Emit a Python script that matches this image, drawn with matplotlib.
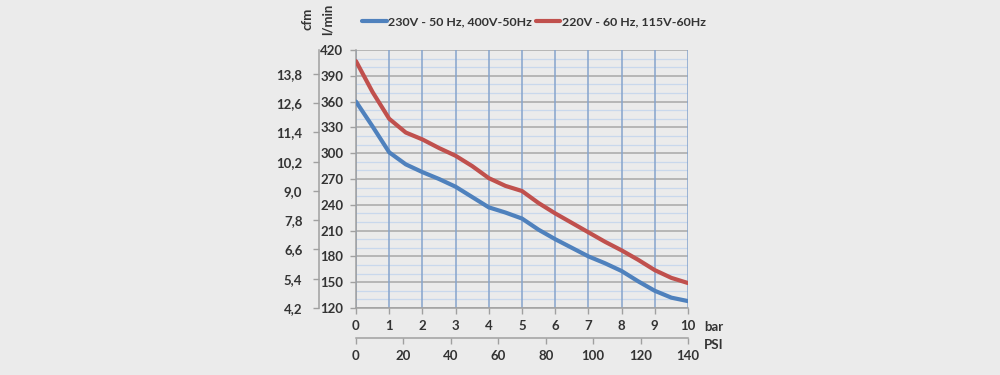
import matplotlib
matplotlib.use('Agg')
import matplotlib.pyplot as plt
from matplotlib.ticker import MultipleLocator

plt.rcParams['font.family'] = ['Lato', 'DejaVu Sans']
plt.rcParams['font.weight'] = 'bold'

# Data (flow in l/min vs pressure in bar)
bar = [0, 0.5, 1, 1.5, 2, 2.5, 3, 3.5, 4, 4.5, 5, 5.5, 6, 6.5, 7, 7.5, 8, 8.5, 9, 9.5, 10]
flow_50hz = [360, 331, 301, 287, 278, 270, 261, 249, 237, 231, 224, 211, 200, 190, 180, 172, 163, 151, 140, 132, 128]
flow_60hz = [407, 371, 340, 324, 316, 306, 297, 285, 271, 262, 256, 242, 230, 219, 208, 197, 187, 176, 164, 155, 149]
label_50hz = "230V - 50 Hz, 400V-50Hz"
label_60hz = "220V - 60 Hz, 115V-60Hz"
lmin_ticks = list(range(120, 421, 30))
cfm_ticks = [4.2, 5.4, 6.6, 7.8, 9.0, 10.2, 11.4, 12.6, 13.8]
bar_ticks = list(range(0, 11))
psi_ticks = list(range(0, 141, 20))

bg = '#ebebeb'
txt = '#333333'
blue = '#4f81bd'
red = '#c0504d'

fig = plt.figure(figsize=(10, 3.75), dpi=100, facecolor=bg)
ax = fig.add_axes([0.356, 0.1787, 0.332, 0.688])
ax.set_facecolor(bg)

l1, = ax.plot(bar, flow_50hz, color=blue, lw=3, solid_joinstyle='round',
              solid_capstyle='round', label=label_50hz, zorder=3)
l2, = ax.plot(bar, flow_60hz, color=red, lw=3, solid_joinstyle='round',
              solid_capstyle='round', label=label_60hz, zorder=3)

ax.set_xlim(0, 10)
ax.set_ylim(120, 420)
ax.set_xticks(bar_ticks)
ax.set_yticks(lmin_ticks)
ax.yaxis.set_minor_locator(MultipleLocator(10))

# grid: vertical blue lines on top of the horizontal ones
ax.grid(True, which='major', axis='y', color='#a8a8a8', lw=1.1)
ax.grid(True, which='minor', axis='y', color='#c9d8ec', lw=0.9)
ax.grid(True, which='major', axis='x', color='#86a4cc', lw=1.1)
ax.yaxis.set_zorder(0.4)
ax.xaxis.set_zorder(0.6)
for s in ['top', 'right']:
    ax.spines[s].set_visible(False)
for s in ['left', 'bottom']:
    ax.spines[s].set_color('#a0a0a0')
    ax.spines[s].set_linewidth(1.1)

ax.tick_params(axis='both', which='major', colors='#a0a0a0', labelcolor=txt,
               labelsize=9.5, length=4, width=1)
ax.tick_params(axis='y', which='minor', length=0)
ax.tick_params(axis='x', pad=5)
ax.tick_params(axis='y', pad=5)

# cfm axis on the far left
cfm = ax.secondary_yaxis(-0.111, functions=(lambda v: (v - 120) / 28.35 + 4.2,
                                            lambda v: (v - 4.2) * 28.35 + 120))
cfm.set_yticks(cfm_ticks)
cfm.set_yticklabels([f"{v:.1f}".replace('.', ',') for v in cfm_ticks])
cfm.spines['left'].set_color('#a0a0a0')
cfm.spines['left'].set_linewidth(1.1)
cfm.tick_params(axis='y', colors='#a0a0a0', labelcolor=txt, labelsize=9.5,
                length=4, width=1, pad=8)

# PSI axis below the bar axis
ax2 = ax.twiny()
ax2.patch.set_visible(False)
ax2.set_xlim(0, 140)
ax2.set_xticks(psi_ticks)
ax2.xaxis.set_ticks_position('bottom')
ax2.xaxis.set_label_position('bottom')
ax2.spines['bottom'].set_position(('outward', 21.6))
for s in ['top', 'right', 'left']:
    ax2.spines[s].set_visible(False)
ax2.spines['bottom'].set_color('#a0a0a0')
ax2.spines['bottom'].set_linewidth(1.1)
ax2.tick_params(axis='x', colors='#a0a0a0', labelcolor=txt, labelsize=9.5,
                length=4, width=1, pad=5)

# unit labels
fig.text(0.714, 1 - 327 / 375, "bar", fontsize=9.5, color=txt, ha='center', va='center', fontweight='bold')
fig.text(0.714, 1 - 345 / 375, "PSI", fontsize=9.5, color=txt, ha='center', va='center', fontweight='bold')
fig.text(0.308, 1 - 19 / 375, "cfm", fontsize=9.5, color=txt, ha='center', va='center', rotation=90, fontweight='bold')
fig.text(0.328, 1 - 19 / 375, "l/min", fontsize=9.5, color=txt, ha='center', va='center', rotation=90, fontweight='bold')

leg = fig.legend(handles=[l1, l2], loc='center left', bbox_to_anchor=(0.362, 1 - 22 / 375),
                 ncol=2, frameon=False, fontsize=8.9, handlelength=2.0, handletextpad=0.1,
                 columnspacing=0.3, borderaxespad=0, borderpad=0)
for t in leg.get_texts():
    t.set_color(txt)
    t.set_fontweight('bold')

fig.savefig('out.png', dpi=100, facecolor=bg)
